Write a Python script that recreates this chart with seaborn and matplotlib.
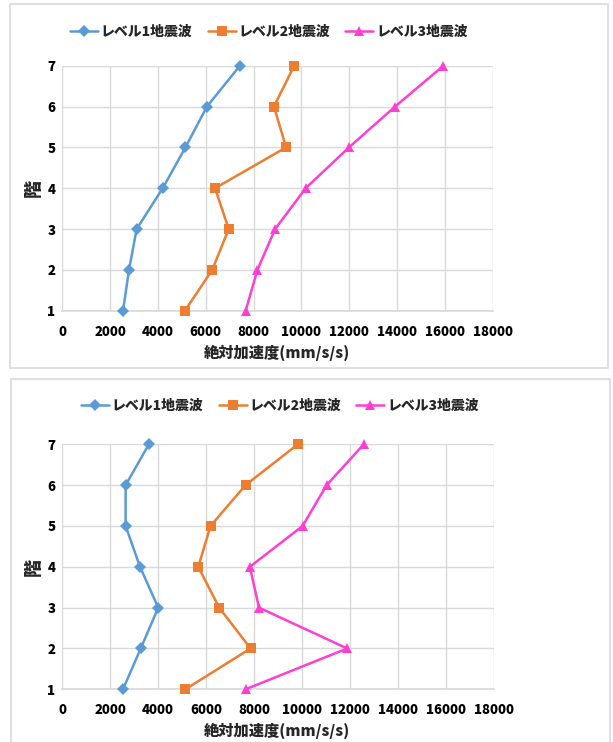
import numpy as np
import pandas as pd
import matplotlib
matplotlib.use("Agg")
import matplotlib.pyplot as plt
from matplotlib.patches import Rectangle
from matplotlib.lines import Line2D
import seaborn as sns

# Floors and peak absolute acceleration (mm/s/s) per seismic level
floors = [1, 2, 3, 4, 5, 6, 7]
levels = ["レベル1地震波", "レベル2地震波", "レベル3地震波"]

case_a_level1 = [2540, 2790, 3110, 4200, 5150, 6050, 7430]
case_a_level2 = [5130, 6270, 6960, 6390, 9360, 8850, 9700]
case_a_level3 = [7670, 8160, 8900, 10180, 11990, 13920, 15940]

case_b_level1 = [2530, 3270, 4000, 3240, 2640, 2640, 3610]
case_b_level2 = [5130, 7850, 6540, 5670, 6180, 7640, 9820]
case_b_level3 = [7640, 11880, 8200, 7820, 10020, 11020, 12570]

x_ticks = [0, 2000, 4000, 6000, 8000, 10000, 12000, 14000, 16000, 18000]
y_ticks = floors
x_label = "絶対加速度(mm/s/s)"
y_label = "階"

colors = {levels[0]: "#5B9BD5", levels[1]: "#ED7D31", levels[2]: "#FF3FD2"}
markers = {levels[0]: "D", levels[1]: "s", levels[2]: "^"}
marker_sizes = {levels[0]: 6, levels[1]: 7, levels[2]: 7.5}

sns.set_theme(style="white")
plt.rcParams["font.family"] = ["Noto Sans CJK JP", "DejaVu Sans"]
plt.rcParams["font.weight"] = "bold"

W, H = 613, 742
fig = plt.figure(figsize=(W / 100, H / 100), dpi=100)


def fx(px):
    return px / W


def fy(py):
    return 1 - py / H


def build_frame(series):
    rows = []
    for lvl, vals in zip(levels, series):
        for f, v in zip(floors, vals):
            rows.append({"level": lvl, "floor": f, "accel": v})
    return pd.DataFrame(rows)


def draw_panel(series, box, ax_px, legend_y, legend_x):
    # panel frame
    x0, y0, x1, y1 = box
    fig.patches.append(Rectangle((fx(x0), fy(y1)), fx(x1 - x0), (y1 - y0) / H,
                                 transform=fig.transFigure, fill=False,
                                 edgecolor="#D9D9D9", linewidth=1.2,
                                 zorder=-5))
    left, top, right, bottom = ax_px
    ax = fig.add_axes([fx(left), fy(bottom), fx(right - left), (bottom - top) / H])
    ax.set_zorder(2)
    ax.set_facecolor("none")
    df = build_frame(series)
    for lvl in levels:
        sub = df[df["level"] == lvl]
        sns.lineplot(data=sub, x="accel", y="floor", orient="y", sort=True,
                     color=colors[lvl], marker=markers[lvl],
                     markersize=marker_sizes[lvl], markeredgewidth=0,
                     linewidth=1.8, ax=ax, legend=False, zorder=3)
    for ln in ax.lines:
        ln.set_clip_on(False)
    ax.set_xlim(x_ticks[0], x_ticks[-1])
    ax.set_ylim(y_ticks[0], y_ticks[-1])
    ax.set_xticks(x_ticks)
    ax.set_yticks(y_ticks)
    ax.grid(True, color="#D9D9D9", linewidth=1.0)
    ax.set_axisbelow(True)
    for s in ["top", "right", "left"]:
        ax.spines[s].set_visible(False)
    ax.spines["bottom"].set_color("#D9D9D9")
    ax.tick_params(axis="both", length=0, labelsize=9.5, colors="black")
    ax.tick_params(axis="x", pad=10)
    ax.tick_params(axis="y", pad=5)
    for t in ax.get_xticklabels() + ax.get_yticklabels():
        t.set_fontweight("heavy")
    ax.set_xlabel("")
    ax.set_ylabel("")
    # axis titles
    fig.text(fx(277), fy(bottom + 42), x_label, ha="center",
             va="center", fontsize=11, fontweight="heavy")
    fig.text(fx(33), fy((top + bottom) / 2), y_label, ha="center", va="center",
             rotation=90, fontsize=13, fontweight="heavy")
    handles = [Line2D([0], [0], color=colors[l], marker=markers[l],
                      markersize=marker_sizes[l], markeredgewidth=0,
                      linewidth=1.8) for l in levels]
    fig.legend(handles, levels, loc="center", ncol=3, frameon=False,
               bbox_to_anchor=(fx(legend_x), fy(legend_y)),
               prop={"size": 10, "weight": "heavy"}, handlelength=2.0,
               columnspacing=1.1, handletextpad=0.2)
    return ax


draw_panel([case_a_level1, case_a_level2, case_a_level3],
           (10, 4, 608, 368), (62.3, 65.7, 492.7, 310.7), 32, 269)
draw_panel([case_b_level1, case_b_level2, case_b_level3],
           (11, 379, 610, 760), (62.3, 444.3, 494.0, 689.3), 406, 280)

fig.savefig("out.png", dpi=100)
